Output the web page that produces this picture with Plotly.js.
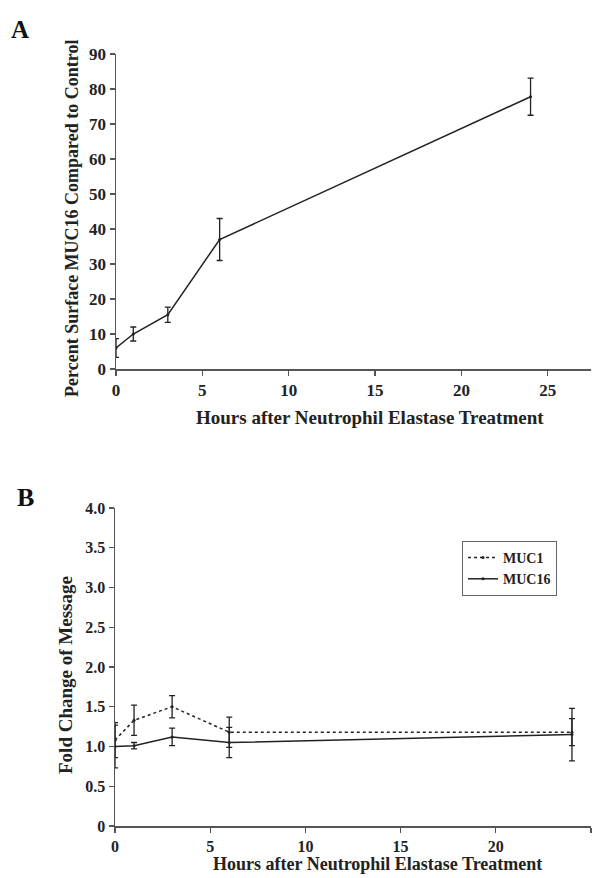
<!DOCTYPE html>
<html>
<head>
<meta charset="utf-8">
<script src="https://cdn.plot.ly/plotly-3.0.1.min.js"></script>
<style>html,body{margin:0;padding:0;background:#fff;}#chart{width:597px;height:878px;}</style>
</head>
<body>
<div id="chart"></div>
<script>
// Panel A data
const hoursA = [0, 1, 3, 6, 24];
const surfaceMUC16 = [6, 10, 15.5, 37, 77.8];
const surfaceErr = [2.7, 2, 2.2, 6, 5.3];

// Panel B data
const hoursB = [0, 1, 3, 6, 24];
const muc1Fold = [1.08, 1.33, 1.5, 1.18, 1.18];
const muc1Err = [0.22, 0.19, 0.14, 0.19, 0.17];
const muc16Fold = [1.0, 1.01, 1.12, 1.05, 1.15];
const muc16Err = [0.27, 0.04, 0.11, 0.19, 0.33];

const ticksA = [0, 10, 20, 30, 40, 50, 60, 70, 80, 90];
const ticksAx = [0, 5, 10, 15, 20, 25];
const ticksB = [0, 0.5, 1.0, 1.5, 2.0, 2.5, 3.0, 3.5, 4.0];
const ticksBlabels = ['0', '0.5', '1.0', '1.5', '2.0', '2.5', '3.0', '3.5', '4.0'];
const ticksBx = [0, 5, 10, 15, 20, 25];
const xTitle = 'Hours after Neutrophil Elastase Treatment';
const yTitleA = 'Percent Surface MUC16 Compared to Control';
const yTitleB = 'Fold Change of Message';

const W = 597, H = 878;
const ink = '#222';
const axisCol = '#555';
const serif = 'Liberation Serif, Times New Roman, serif';
const bold = s => '<b>' + s + '</b>';

const traces = [
  {
    x: hoursA, y: surfaceMUC16, xaxis: 'x', yaxis: 'y',
    type: 'scatter', mode: 'lines+markers', showlegend: false,
    line: {color: ink, width: 1.5},
    marker: {color: ink, size: 3},
    error_y: {type: 'data', array: surfaceErr, visible: true, color: ink, thickness: 1.3, width: 3}
  },
  {
    x: hoursB, y: muc1Fold, xaxis: 'x2', yaxis: 'y2', name: bold('MUC1'),
    type: 'scatter', mode: 'lines+markers',
    line: {color: ink, width: 1.5, dash: 'dot'},
    marker: {color: ink, size: 3},
    error_y: {type: 'data', array: muc1Err, visible: true, color: ink, thickness: 1.3, width: 3}
  },
  {
    x: hoursB, y: muc16Fold, xaxis: 'x2', yaxis: 'y2', name: bold('MUC16'),
    type: 'scatter', mode: 'lines+markers',
    line: {color: ink, width: 1.5},
    marker: {color: ink, size: 3},
    error_y: {type: 'data', array: muc16Err, visible: true, color: ink, thickness: 1.3, width: 3}
  }
];

function px2x(p){ return p / W; }
function px2y(p){ return 1 - p / H; }

const axCommon = {
  showgrid: false, zeroline: false, showline: true, linecolor: axisCol, linewidth: 1.5,
  ticks: 'outside', ticklen: 5, tickwidth: 1.3, tickcolor: axisCol,
  tickfont: {family: serif, size: 17, color: ink}
};

function ann(text, xp, yp, size, angle){
  return {text: bold(text), xref: 'paper', yref: 'paper', x: px2x(xp), y: px2y(yp),
    xanchor: 'center', yanchor: 'middle', showarrow: false, textangle: angle || 0,
    font: {family: serif, size: size, color: ink}};
}

const layout = {
  width: W, height: H,
  margin: {l: 0, r: 0, t: 0, b: 0},
  paper_bgcolor: '#fff', plot_bgcolor: 'rgba(0,0,0,0)',
  font: {family: serif, color: ink},
  xaxis: Object.assign({}, axCommon, {
    domain: [px2x(116), px2x(591)], range: [0, 27.5], anchor: 'y',
    tickvals: ticksAx, ticktext: ticksAx.map(v => bold(String(v)))
  }),
  yaxis: Object.assign({}, axCommon, {
    domain: [px2y(369), px2y(54)], range: [0, 90], anchor: 'x',
    tickvals: ticksA, ticktext: ticksA.map(v => bold(String(v)))
  }),
  xaxis2: Object.assign({}, axCommon, {
    domain: [px2x(115), px2x(591)], range: [0, 25], anchor: 'y2',
    tickvals: ticksBx, ticktext: ticksBx.map(v => bold(String(v))),
    tickfont: {family: serif, size: 16, color: ink}
  }),
  yaxis2: Object.assign({}, axCommon, {
    domain: [px2y(826), px2y(508)], range: [0, 4], anchor: 'x2',
    tickvals: ticksB, ticktext: ticksBlabels.map(bold),
    tickfont: {family: serif, size: 16, color: ink}
  }),
  showlegend: true,
  legend: {
    x: px2x(462), y: px2y(541), xanchor: 'left', yanchor: 'top',
    bgcolor: '#fff', bordercolor: '#666', borderwidth: 1,
    font: {family: serif, size: 14, color: ink},
    itemwidth: 30, tracegroupgap: 0
  },
  annotations: [
    {text: '<b>A</b>', xref: 'paper', yref: 'paper', x: px2x(9), y: px2y(14), xanchor: 'left', yanchor: 'top', showarrow: false, font: {family: serif, size: 25, color: '#111'}},
    {text: '<b>B</b>', xref: 'paper', yref: 'paper', x: px2x(15), y: px2y(481), xanchor: 'left', yanchor: 'top', showarrow: false, font: {family: serif, size: 26, color: '#111'}},
    ann(xTitle, 370, 417, 19, 0),
    ann(yTitleA, 72, 219, 18, -90),
    ann(xTitle, 377, 864, 18, 0),
    ann(yTitleB, 65, 675, 19, -90)
  ]
};

Plotly.newPlot('chart', traces, layout, {displayModeBar: false, staticPlot: true});
</script>
</body>
</html>
